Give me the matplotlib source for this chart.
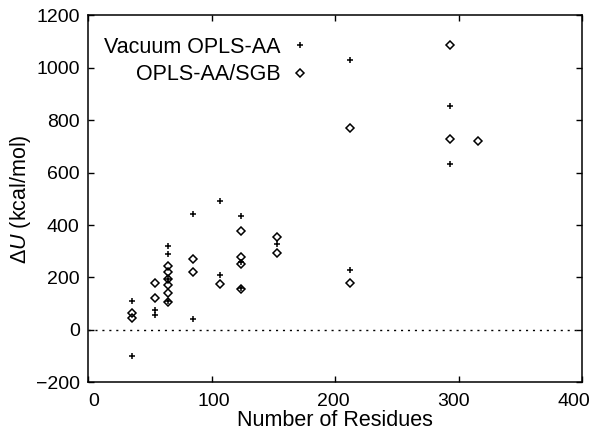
import matplotlib
matplotlib.use("Agg")
import matplotlib.pyplot as plt
import matplotlib.transforms as mtransforms

plt.rcParams['font.family'] = ['Liberation Sans', 'DejaVu Sans']
plt.rcParams['mathtext.fontset'] = 'custom'
plt.rcParams['mathtext.rm'] = 'Liberation Sans'
plt.rcParams['mathtext.it'] = 'Liberation Sans:italic'

# number of residues and energy differences (kcal/mol)
vac_x = [36, 36, 54, 54, 65, 65, 65, 65, 85, 85, 107, 107, 124, 124, 124, 153, 212, 212, 293, 293]
vac_y = [110, -100, 75, 55, 320, 290, 195, 110, 443, 40, 491, 210, 436, 260, 160, 326, 1030, 230, 856, 635]

sgb_x = [36, 36, 54, 54, 65, 65, 65, 65, 65, 65, 85, 85, 107, 124, 124, 124, 124, 153, 153, 212, 212, 293, 293, 316]
sgb_y = [65, 45, 180, 120, 245, 220, 195, 170, 140, 108, 272, 220, 176, 378, 280, 252, 158, 355, 294, 771, 179, 1087, 730, 720]

fig = plt.figure(figsize=(5.96, 4.41), dpi=100)
ax = fig.add_axes([0.1477, 0.1331, 0.8288, 0.8318])

ax.axhline(0, color='black', lw=1.0, linestyle=(0, (1.5, 3.5)), zorder=1)

ax.plot(vac_x, vac_y, linestyle='none', marker='+', markersize=5, markeredgewidth=1.1,
        color='black', label='Vacuum OPLS-AA')
ax.plot(sgb_x, sgb_y, linestyle='none', marker='D', markersize=4.5, markeredgewidth=1.1,
        markerfacecolor='none', markeredgecolor='black', label='OPLS-AA/SGB')

ax.set_xlim(0, 400)
ax.set_ylim(-200, 1200)
ax.set_xticks([0, 100, 200, 300, 400])
ax.set_yticks(range(-200, 1201, 200))

ax.tick_params(direction='in', top=True, right=True, length=4, width=1, labelsize=14)
ax.tick_params(axis='x', pad=8)
ax.tick_params(axis='y', pad=6)
for s in ax.spines.values():
    s.set_linewidth(1.1)

# x tick labels sit a little inward of their ticks in the original
for i, lab in enumerate(ax.get_xticklabels()):
    dx = (4 - 2.5 * i) / 72.0
    lab.set_transform(lab.get_transform() + mtransforms.ScaledTranslation(dx, 0, fig.dpi_scale_trans))

ax.set_xlabel('Number of Residues', fontsize=15.5, labelpad=0)
ax.set_ylabel(r'Δ$U$ (kcal/mol)', fontsize=15.5, labelpad=2)

ax.legend(loc='upper left', frameon=False, fontsize=15.5, markerfirst=False,
          handlelength=0.7, handletextpad=0.55, labelspacing=0.3,
          borderaxespad=0.6, bbox_to_anchor=(-0.011, 1.0))

fig.savefig('out.png', dpi=100)
